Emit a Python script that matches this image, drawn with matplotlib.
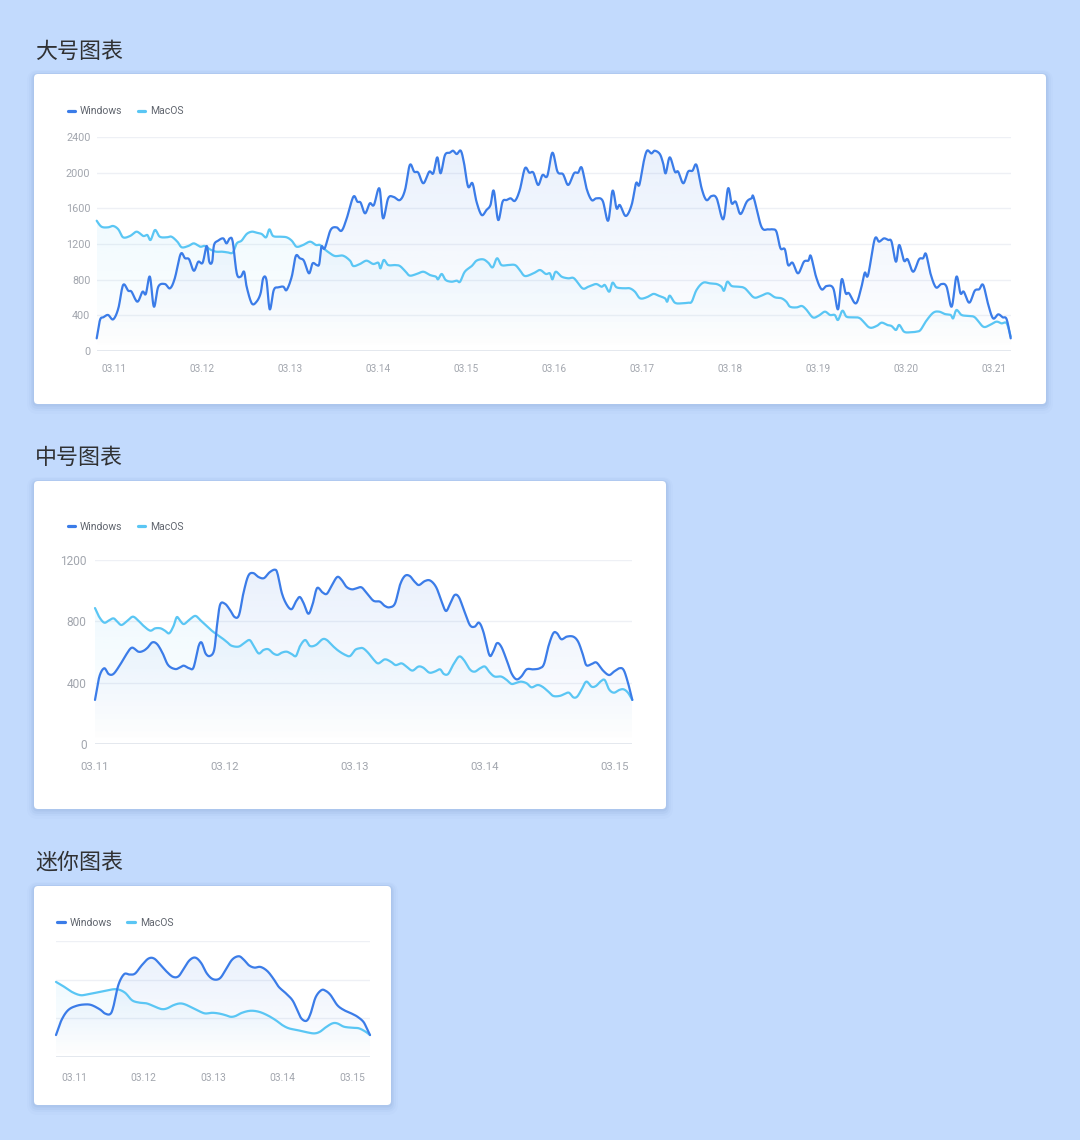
import numpy as np
import matplotlib
matplotlib.use('Agg')
import matplotlib.pyplot as plt
from matplotlib.patches import FancyBboxPatch, Polygon
from matplotlib.lines import Line2D
from matplotlib.colors import to_rgb

plt.rcParams['font.family'] = ['Roboto', 'Noto Sans CJK SC', 'DejaVu Sans']
CJK = ['Noto Sans CJK SC', 'DejaVu Sans']

# ---------------- data ----------------
SERIES_NAMES = ['Windows', 'MacOS']
COLORS = ['#3b7ce8', '#5ac6f4']
TITLES = ['大号图表', '中号图表', '迷你图表']

# x = hours after the 03.11 tick, y = value
WIN_LARGE = [(-4.7,142),(-3.8,348),(-2.9,378),(-1.6,404),(-0.2,355),(1.2,478),(2.5,740),(3.9,676),(4.8,665),(6.4,553),(7.8,665),(8.7,640),(9.8,834),(10.9,497),(12.1,721),(13.9,751),(15.3,703),(16.6,815),(18.2,1088),(19.4,1040),(20.5,1028),(21.8,900),(23.0,1001),(24.2,990),(25.3,1178),(26.0,1001),(26.8,1001),(27.3,1189),(28.4,1237),(29.8,1263),(30.7,1207),(31.6,1263),(32.4,1226),(33.5,871),(34.6,834),(35.5,889),(36.2,721),(37.6,534),(38.9,553),(40.0,647),(40.7,815),(41.6,796),(42.5,467),(43.6,684),(44.8,714),(46.2,721),(47.1,684),(48.5,834),(49.6,1065),(50.7,1040),(51.8,1013),(53.2,871),(54.2,983),(55.3,964),(56.0,976),(56.6,1170),(57.5,1152),(59.1,1357),(60.7,1387),(62.1,1349),(63.5,1488),(65.3,1730),(66.4,1674),(67.3,1663),(68.5,1544),(69.8,1656),(70.9,1637),(72.4,1824),(73.4,1488),(74.8,1712),(76.2,1730),(78.0,1693),(79.4,1806),(80.7,2086),(81.9,2011),(83.0,2000),(84.4,1881),(86.0,2011),(87.1,1993),(88.2,2172),(89.1,1993),(90.3,2198),(91.6,2224),(92.5,2246),(93.5,2209),(94.6,2246),(95.5,2105),(96.6,1843),(97.8,1881),(98.9,1674),(100.3,1525),(101.6,1581),(102.7,1637),(103.6,1798),(104.8,1469),(106.0,1674),(107.1,1693),(108.2,1712),(109.4,1685),(110.7,1806),(112.1,2049),(113.3,2000),(114.4,2000),(115.7,1862),(116.9,1974),(118.2,1963),(119.6,2224),(121.0,2010),(122.5,1982),(123.9,1862),(125.5,1993),(126.6,2000),(127.6,2056),(128.9,1824),(130.3,1693),(131.6,1712),(133.3,1685),(134.8,1461),(136.0,1798),(137.1,1600),(138.0,1637),(139.6,1514),(141.2,1637),(142.4,1881),(143.3,1862),(144.4,2105),(145.4,2246),(146.6,2216),(147.5,2246),(148.9,2209),(149.8,2105),(150.5,1993),(151.6,2172),(153.0,2011),(153.9,2011),(155.3,1881),(156.6,2011),(157.8,2022),(158.9,2086),(160.3,1824),(161.6,1693),(163.0,1738),(164.4,1712),(166.2,1477),(167.5,1824),(168.5,1656),(169.6,1674),(170.9,1536),(172.6,1674),(173.9,1712),(174.5,1722),(176.6,1394),(178.4,1364),(179.6,1364),(180.7,1338),(181.8,1152),(183.0,1140),(183.9,964),(185.1,990),(186.6,871),(188.2,1001),(189.4,1013),(190.1,1065),(191.5,834),(193.0,692),(194.4,729),(196.2,703),(197.5,467),(198.5,804),(199.6,647),(200.5,647),(202.4,534),(203.9,721),(204.8,878),(205.7,852),(207.5,1253),(208.7,1226),(210.0,1263),(211.2,1245),(212.1,1226),(213.3,1001),(214.2,1189),(215.5,1013),(216.5,1028),(218.0,889),(219.6,1028),(220.7,1040),(221.5,1088),(222.7,871),(224.2,714),(225.7,751),(227.1,721),(228.5,497),(229.8,834),(230.9,647),(231.8,665),(233.3,542),(234.8,676),(236.0,692),(237.1,740),(238.5,516),(239.8,366),(241.2,411),(242.4,378),(243.5,355),(244.6,142)]

MAC_LARGE = [(-4.7,1461),(-3.4,1394),(-1.6,1387),(-0.2,1402),(1.2,1364),(2.5,1275),(4.4,1290),(6.2,1338),(8.0,1290),(9.1,1301),(10.0,1245),(11.2,1357),(12.5,1282),(14.4,1275),(15.7,1282),(17.3,1226),(18.5,1163),(20.3,1178),(21.8,1207),(23.5,1170),(24.8,1178),(26.2,1140),(27.8,1114),(29.4,1114),(30.9,1107),(32.4,1103),(33.5,1207),(34.8,1237),(36.2,1312),(37.6,1338),(38.9,1327),(40.3,1312),(41.5,1275),(42.4,1364),(43.4,1290),(45.3,1282),(47.1,1275),(48.5,1237),(49.8,1170),(51.6,1189),(53.5,1226),(55.1,1189),(56.2,1189),(57.5,1140),(58.7,1103),(60.3,1065),(62.5,1069),(64.4,1013),(65.3,953),(67.1,976),(68.9,1013),(70.7,976),(72.1,990),(72.7,927),(73.6,1021),(74.8,964),(76.6,964),(78.0,953),(79.6,889),(80.7,845),(82.6,864),(84.4,889),(86.2,852),(87.8,834),(88.4,804),(89.4,864),(90.5,796),(92.1,777),(93.5,789),(94.4,777),(95.7,889),(97.6,953),(98.9,1013),(100.7,1028),(102.1,990),(103.3,938),(104.5,1040),(105.7,964),(107.5,964),(109.4,964),(110.7,908),(112.1,841),(114.4,871),(116.2,908),(117.8,864),(118.9,871),(119.6,804),(120.5,889),(122.1,834),(123.9,815),(125.5,815),(127.8,703),(129.4,721),(131.5,751),(133.0,721),(133.9,740),(135.1,665),(136.0,766),(137.1,714),(139.1,703),(140.7,703),(142.1,665),(143.5,591),(145.3,602),(147.1,640),(148.5,621),(150.3,591),(150.9,553),(151.6,621),(153.0,542),(154.8,534),(156.6,542),(157.6,553),(158.9,684),(160.7,766),(162.5,759),(164.4,751),(165.7,721),(166.4,676),(167.3,777),(168.5,729),(170.3,721),(172.1,703),(174.5,602),(176.4,617),(178.4,647),(180.3,602),(182.1,591),(183.4,553),(184.4,497),(186.2,489),(187.6,505),(188.8,467),(190.6,378),(192.1,393),(193.9,441),(195.3,404),(196.6,404),(197.5,348),(198.7,452),(199.8,385),(201.6,378),(203.5,366),(206.0,265),(208.0,280),(209.4,318),(210.9,292),(212.1,280),(213.3,236),(214.2,292),(215.5,217),(217.1,209),(218.9,217),(220.0,236),(221.6,340),(223.5,430),(225.1,441),(226.6,415),(228.2,404),(228.9,366),(229.8,460),(231.2,404),(233.1,393),(234.8,378),(237.1,273),(238.9,292),(240.7,329),(242.1,310),(243.5,310),(244.6,161)]

WIN_MEDIUM = [(0,289),(0.8,440),(1.7,495),(2.5,458),(3.4,458),(4.6,516),(5.7,581),(6.8,629),(8.0,603),(8.9,608),(9.7,629),(10.6,664),(11.5,651),(12.5,592),(13.5,516),(14.8,490),(15.7,501),(16.4,512),(17.4,495),(18.2,501),(19.1,636),(19.7,662),(20.4,592),(21.2,575),(22.0,614),(22.5,767),(23.1,909),(24.0,915),(24.9,876),(25.8,828),(26.6,843),(27.4,984),(28.3,1097),(29.2,1115),(30.2,1089),(31.2,1082),(32.2,1119),(33.2,1137),(33.7,1111),(34.5,984),(35.4,909),(36.3,880),(37.1,930),(37.8,959),(38.5,920),(39.4,850),(40.2,915),(41.0,1017),(42.0,989),(42.8,980),(43.7,1033),(44.7,1089),(45.5,1072),(46.4,1026),(47.4,1009),(48.3,1016),(49.2,1022),(50.1,987),(51.4,935),(52.6,929),(53.5,901),(54.4,892),(55.4,918),(56.3,1037),(57.2,1096),(58.1,1096),(59.0,1059),(59.8,1037),(60.9,1063),(61.9,1066),(63.0,1022),(64.0,929),(64.8,868),(65.6,918),(66.4,972),(67.2,957),(68.1,875),(69.2,777),(70.1,766),(70.9,792),(71.7,733),(72.8,582),(73.5,603),(74.2,658),(75.0,636),(76.0,549),(76.9,462),(77.8,423),(78.7,441),(79.7,488),(80.9,488),(82.1,495),(82.9,523),(83.7,636),(84.6,723),(85.3,723),(86.1,684),(87.1,701),(88.3,701),(89.2,668),(90.0,592),(90.7,516),(91.7,523),(92.6,532),(93.8,480),(94.9,451),(95.8,473),(96.8,495),(97.6,484),(98.4,401),(99.2,289)]

MAC_MEDIUM = [(0,887),(0.8,828),(1.7,792),(2.5,805),(3.4,820),(4.1,799),(4.9,777),(6.0,805),(7.0,831),(8.0,805),(9.0,770),(10.2,740),(11.1,755),(12.1,755),(12.9,740),(13.7,723),(14.5,770),(15.1,828),(15.7,805),(16.4,783),(17.4,810),(18.5,836),(19.4,810),(20.6,770),(21.8,733),(23.1,701),(24.3,668),(25.2,642),(26.5,636),(27.5,658),(28.5,679),(29.2,647),(30.2,592),(31.1,614),(32.0,619),(32.9,592),(33.7,582),(34.5,597),(35.4,603),(36.3,588),(37.1,575),(37.8,636),(38.8,679),(39.7,640),(40.8,647),(42.0,684),(42.8,679),(43.7,647),(44.9,610),(46.2,582),(47.1,575),(48.0,614),(48.8,625),(49.5,625),(50.4,597),(51.4,553),(52.3,527),(53.5,553),(54.6,538),(55.5,516),(56.6,527),(57.5,506),(58.6,480),(59.7,506),(60.6,499),(61.7,467),(62.7,473),(63.7,488),(64.4,458),(65.2,458),(66.1,516),(67.2,571),(68.1,549),(69.2,488),(70.1,473),(71.1,495),(72.0,506),(72.9,467),(73.8,441),(75.0,441),(76.0,419),(76.9,393),(77.8,401),(78.7,408),(79.7,397),(80.6,371),(81.7,386),(82.6,375),(83.7,343),(84.6,315),(85.8,315),(86.7,328),(87.5,336),(88.3,306),(89.0,310),(89.8,354),(90.7,408),(91.7,375),(92.5,380),(93.3,408),(94.1,419),(94.9,358),(95.8,336),(96.8,354),(97.6,358),(98.4,336),(99.2,289)]

WIN_MINI = [(-6.2,229),(-4.3,383),(-2.0,486),(0.9,530),(3.8,544),(6.1,537),(9.0,492),(10.7,451),(12.5,445),(13.6,520),(15.3,742),(17.3,855),(19.2,852),(21.1,862),(23.4,947),(25.7,1016),(27.7,1016),(30.0,947),(32.1,879),(34.2,828),(36.1,834),(37.9,913),(39.9,999),(41.9,1026),(43.9,971),(45.9,862),(48.0,804),(50.3,811),(52.3,896),(54.6,1005),(56.9,1040),(58.6,1005),(60.4,947),(62.3,923),(64.4,930),(66.7,889),(68.8,811),(70.7,725),(73.0,663),(75.4,588),(77.1,486),(78.5,400),(80.3,376),(81.7,451),(83.4,616),(85.4,691),(86.9,684),(88.6,640),(90.9,537),(93.2,486),(95.8,451),(97.9,417),(99.9,366),(101.1,298),(102.2,229)]

MAC_MINI = [(-6.2,776),(-3.7,732),(-0.8,674),(2.1,640),(4.4,646),(7.3,663),(10.2,681),(13.0,698),(15.3,698),(17.7,663),(20.0,588),(22.3,564),(25.2,554),(28.0,520),(30.3,496),(32.1,503),(34.4,537),(36.5,554),(38.4,544),(41.3,503),(43.6,469),(45.4,451),(47.7,458),(50.0,451),(52.3,434),(54.0,417),(55.7,424),(58.0,458),(60.9,479),(63.8,469),(66.7,434),(69.6,383),(71.9,332),(74.2,298),(77.1,280),(80.0,260),(82.9,246),(84.9,263),(86.9,308),(89.2,349),(90.9,349),(93.2,315),(96.1,304),(98.4,298),(100.7,263),(102.2,229)]

LARGE_XLABELS = ['03.11', '03.12', '03.13', '03.14', '03.15', '03.16',
                 '03.17', '03.18', '03.19', '03.20', '03.21']
SMALL_XLABELS = ['03.11', '03.12', '03.13', '03.14', '03.15']
LARGE_YTICKS = [0, 400, 800, 1200, 1600, 2000, 2400]
SMALL_YTICKS = [0, 400, 800, 1200]

# ---------------- helpers ----------------
W, H = 1080, 1140
fig = plt.figure(figsize=(W / 100, H / 100), dpi=100)
fig.patch.set_facecolor('#c2dafd')
IN = fig.dpi_scale_trans


def pin(px, py):
    return px / 100.0, (H - py) / 100.0


def smooth(pts, n=10):
    P = np.asarray(pts, float)
    P = np.vstack([P[0], P, P[-1]])
    t = np.linspace(0, 1, n, endpoint=False)[:, None]
    out = []
    for i in range(1, len(P) - 2):
        p0, p1, p2, p3 = P[i - 1], P[i], P[i + 1], P[i + 2]
        seg = 0.5 * (2 * p1 + (-p0 + p2) * t + (2 * p0 - 5 * p1 + 4 * p2 - p3) * t ** 2
                     + (-p0 + 3 * p1 - 3 * p2 + p3) * t ** 3)
        out.append(seg)
    out.append(P[-2][None])
    a = np.vstack(out)
    return a[:, 0], a[:, 1]


def card(x0, y0, x1, y1):
    for grow, dy, a in [(7, 3, 0.025), (5, 2, 0.035), (3, 2, 0.05), (1.5, 1, 0.07)]:
        bx, by = pin(x0 - grow, y1 + grow + dy)
        p = FancyBboxPatch((bx, by), (x1 - x0 + 2 * grow) / 100, (y1 - y0 + 2 * grow) / 100,
                           boxstyle='round,pad=0,rounding_size=%f' % ((4 + grow) / 100),
                           transform=IN, facecolor='#4a6ea8', edgecolor='none', alpha=a, zorder=0)
        fig.add_artist(p)
    bx, by = pin(x0, y1)
    p = FancyBboxPatch((bx, by), (x1 - x0) / 100, (y1 - y0) / 100,
                       boxstyle='round,pad=0,rounding_size=0.04',
                       transform=IN, facecolor='white', edgecolor='none', zorder=0.5)
    fig.add_artist(p)


def title(x, y, s):
    fx, fy = pin(x, y)
    fig.text(fx, fy, s, transform=IN, ha='left', va='center', fontsize=15.8,
             color='#303133', family=CJK)


def legend(x, y):
    offs = [0, 70]
    for name, col, o in zip(SERIES_NAMES, COLORS, offs):
        a = pin(x + o + 1.5, y)
        b = pin(x + o + 8.5, y)
        fig.add_artist(Line2D([a[0], b[0]], [a[1], b[1]], transform=IN, color=col,
                              lw=2.3, solid_capstyle='round', zorder=3))
        t = pin(x + o + 14, y + 0.5)
        fig.text(t[0], t[1], name, transform=IN, ha='left', va='center',
                 fontsize=7.5, color='#60656e', zorder=3)


def grad_fill(ax, xs, ys, color, a_top):
    rgb = to_rgb(color)
    n = 256
    img = np.zeros((n, 1, 4))
    img[..., :3] = rgb
    img[:, 0, 3] = np.linspace(a_top, 0.0, n)
    im = ax.imshow(img, extent=[xs.min(), xs.max(), 0, ys.max()], origin='upper',
                   aspect='auto', zorder=1, interpolation='bilinear')
    poly = Polygon(np.column_stack([np.r_[xs[0], xs, xs[-1]], np.r_[0, ys, 0]]),
                   closed=True, transform=ax.transData, facecolor='none', edgecolor='none')
    im.set_clip_path(poly)


def chart(rect_px, xlim, ylim, yticks, show_y, xlabels, series, xfs, yfs, xpad, ypad, lw):
    x0, y0, x1, y1 = rect_px
    ax = fig.add_axes([x0 / W, 1 - y1 / H, (x1 - x0) / W, (y1 - y0) / H])
    ax.set_zorder(2)
    ax.patch.set_alpha(0)
    for s in ax.spines.values():
        s.set_visible(False)
    for v in yticks[1:]:
        ax.axhline(v, color='#eef0f5', lw=1.0, zorder=0.5)
    ax.axhline(0, color='#dde1ea', lw=1.1, zorder=0.6)
    for pts, col, a in zip(series, COLORS, [0.11, 0.09]):
        xs, ys = smooth(pts)
        grad_fill(ax, xs, ys, col, a)
    for pts, col, z in zip(series, COLORS, [4, 3]):
        xs, ys = smooth(pts)
        ax.plot(xs, ys, color=col, lw=lw, zorder=z, clip_on=False, solid_capstyle='round',
                solid_joinstyle='round')
    ax.set_xlim(*xlim)
    ax.set_ylim(*ylim)
    ax.set_xticks([24 * i for i in range(len(xlabels))])
    ax.set_xticklabels(xlabels)
    ax.tick_params(axis='x', length=0, pad=xpad, labelsize=xfs, labelcolor='#a2a6ae')
    if show_y:
        ax.set_yticks(yticks)
        ax.set_yticklabels([str(v) for v in yticks])
        ax.tick_params(axis='y', length=0, pad=ypad, labelsize=yfs, labelcolor='#a2a6ae')
    else:
        ax.set_yticks([])
    return ax


# ---------------- large ----------------
card(34, 74, 1046, 404)
title(35, 52, TITLES[0])
legend(66, 111)
chart((96.7, 137, 1010.7, 351), (-4.7, 244.6), (0, 2400), LARGE_YTICKS, True,
      LARGE_XLABELS, [WIN_LARGE, MAC_LARGE], 7.2, 7.8, 9.5, 4.5, 1.6)

# ---------------- medium ----------------
card(34, 481, 666, 809)
title(35, 458, TITLES[1])
legend(66, 526)
chart((95, 560, 632.3, 744.3), (0, 99.2), (0, 1200), SMALL_YTICKS, True,
      SMALL_XLABELS, [WIN_MEDIUM, MAC_MEDIUM], 8.2, 8.6, 13, 6, 1.6)

# ---------------- mini ----------------
card(34, 886, 391, 1105)
title(35, 863, TITLES[2])
legend(56, 922)
chart((56, 940.7, 370, 1057.3), (-6.2, 102.2), (0, 1200), SMALL_YTICKS, False,
      SMALL_XLABELS, [WIN_MINI, MAC_MINI], 7.4, 7.4, 11, 0, 1.6)

fig.savefig('out.png', dpi=100, facecolor=fig.get_facecolor())
